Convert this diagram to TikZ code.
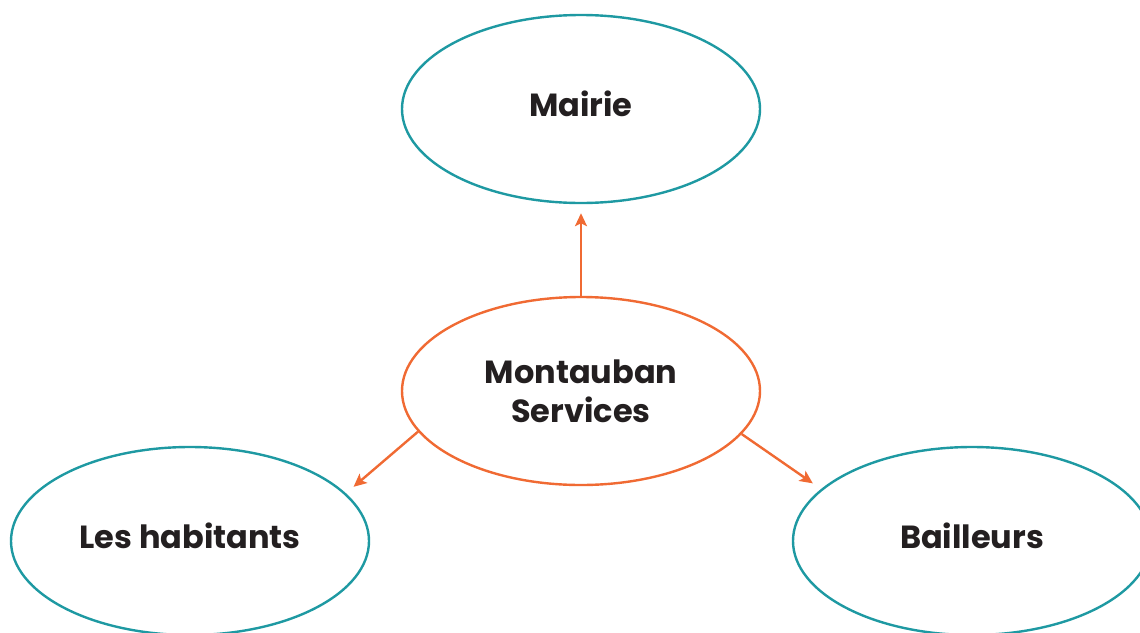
\documentclass[tikz,border=0pt]{standalone}
\usepackage{fontspec}
\setmainfont{Poppins}
\usetikzlibrary{arrows.meta, shapes.geometric}
\definecolor{teal}{HTML}{1E99A2}
\definecolor{orng}{HTML}{F06A33}
\definecolor{ink}{HTML}{231F20}
\begin{document}
\begin{tikzpicture}[x=0.5pt, y=-0.5pt,
    bubble/.style={ellipse, draw=teal, line width=1.2pt, minimum width=179pt,
        minimum height=94pt, align=center, text=ink, text depth=5pt,
        font=\fontsize{16}{19.5}\selectfont\bfseries},
    link/.style={draw=orng, line width=1.2pt,
        -{Stealth[length=6.5pt, width=6pt, inset=1.5pt]}}]
    \useasboundingbox (0,0) rectangle (1140,632);
    \node[bubble] (mairie) at (581,109) {Mairie};
    \node[bubble, draw=orng, text depth=0pt] (serv) at (581,391) {Montauban\\Services};
    \node[bubble] (hab) at (190,541) {Les habitants};
    \node[bubble] (baill) at (972,541) {Bailleurs};
	% arrows
    \draw[link, shorten >=4.5pt] (serv.north) -- (mairie.south);
    \draw[link, shorten >=5pt] (serv.194) -- (hab.17);
    \draw[link, shorten >=5pt] (serv.345) -- (baill.161);
\end{tikzpicture}
\end{document}
